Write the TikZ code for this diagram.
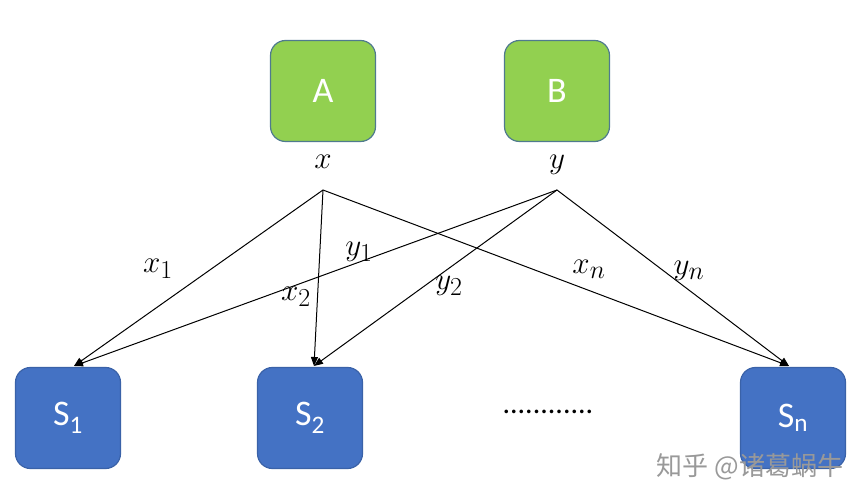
\documentclass[tikz,border=0pt]{standalone}
\usepackage{fontspec}
\setmainfont{Carlito}
\newfontfamily\cjk{Noto Sans CJK SC}
\usetikzlibrary{arrows.meta}
\definecolor{gfill}{HTML}{92D050}
\definecolor{gline}{HTML}{4F7A8E}
\definecolor{bfill}{HTML}{4472C4}
\definecolor{bline}{HTML}{3A62A8}
\tikzset{
  gbox/.style={draw=gline, line width=1.2pt, fill=gfill, rounded corners=15pt, minimum width=105pt, minimum height=101pt, text=white, font=\fontsize{36}{36}\selectfont, inner sep=0pt},
  bbox/.style={draw=bline, line width=1.2pt, fill=bfill, rounded corners=15pt, minimum width=105pt, minimum height=101pt, text=white, font=\fontsize{36}{36}\selectfont, inner sep=0pt},
  conn/.style={line width=1pt, -{Triangle[length=9pt,width=7pt]}},
  lab/.style={font=\fontsize{24.88}{26}\selectfont, inner sep=0pt, scale=1.25, transform shape},
}
\begin{document}
\begin{tikzpicture}[x=1pt,y=-1pt]
\useasboundingbox (0,0) rectangle (864,502);
\node[gbox] (A) at (323,91) {A};
\node[gbox] (B) at (557,91) {B};
\node[lab] (xl) at (323,162) {$x$};
\node[lab] (yl) at (557,165) {$y$};
\coordinate (xs) at (323,190);
\coordinate (ys) at (557,190);
\node[bbox] (S1) at (68,418) {S\textsubscript{1}};
\node[bbox] (S2) at (310,418) {S\textsubscript{2}};
\node[bbox] (Sn) at (793,418) {S\textsubscript{n}};
\coordinate (t1) at (74,366);
\coordinate (t2) at (314,366);
\coordinate (tn) at (789,366);
\draw[conn] (xs) -- (t1);
\draw[conn] (xs) -- (t2);
\draw[conn] (xs) -- (tn);
\draw[conn] (ys) -- (t1);
\draw[conn] (ys) -- (t2);
\draw[conn] (ys) -- (tn);
\node[lab] (lx1) at (158,269) {$x_1$};
\node[lab] (ly1) at (359,252) {$y_1$};
\node[lab] (lx2) at (296,297) {$x_2$};
\node[lab] (ly2) at (449,286) {$y_2$};
\node[lab] (lxn) at (589,269) {$x_n$};
\node[lab] (lyn) at (689,271) {$y_n$};
\node[font=\fontsize{30}{30}\selectfont, inner sep=0pt] (dots) at (548,412) {............};
\node[font=\cjk\fontsize{26}{26}\selectfont, text=black!40, inner sep=0pt] (wm) at (750,467) {知乎 @诸葛蜗牛};
\end{tikzpicture}
\end{document}
